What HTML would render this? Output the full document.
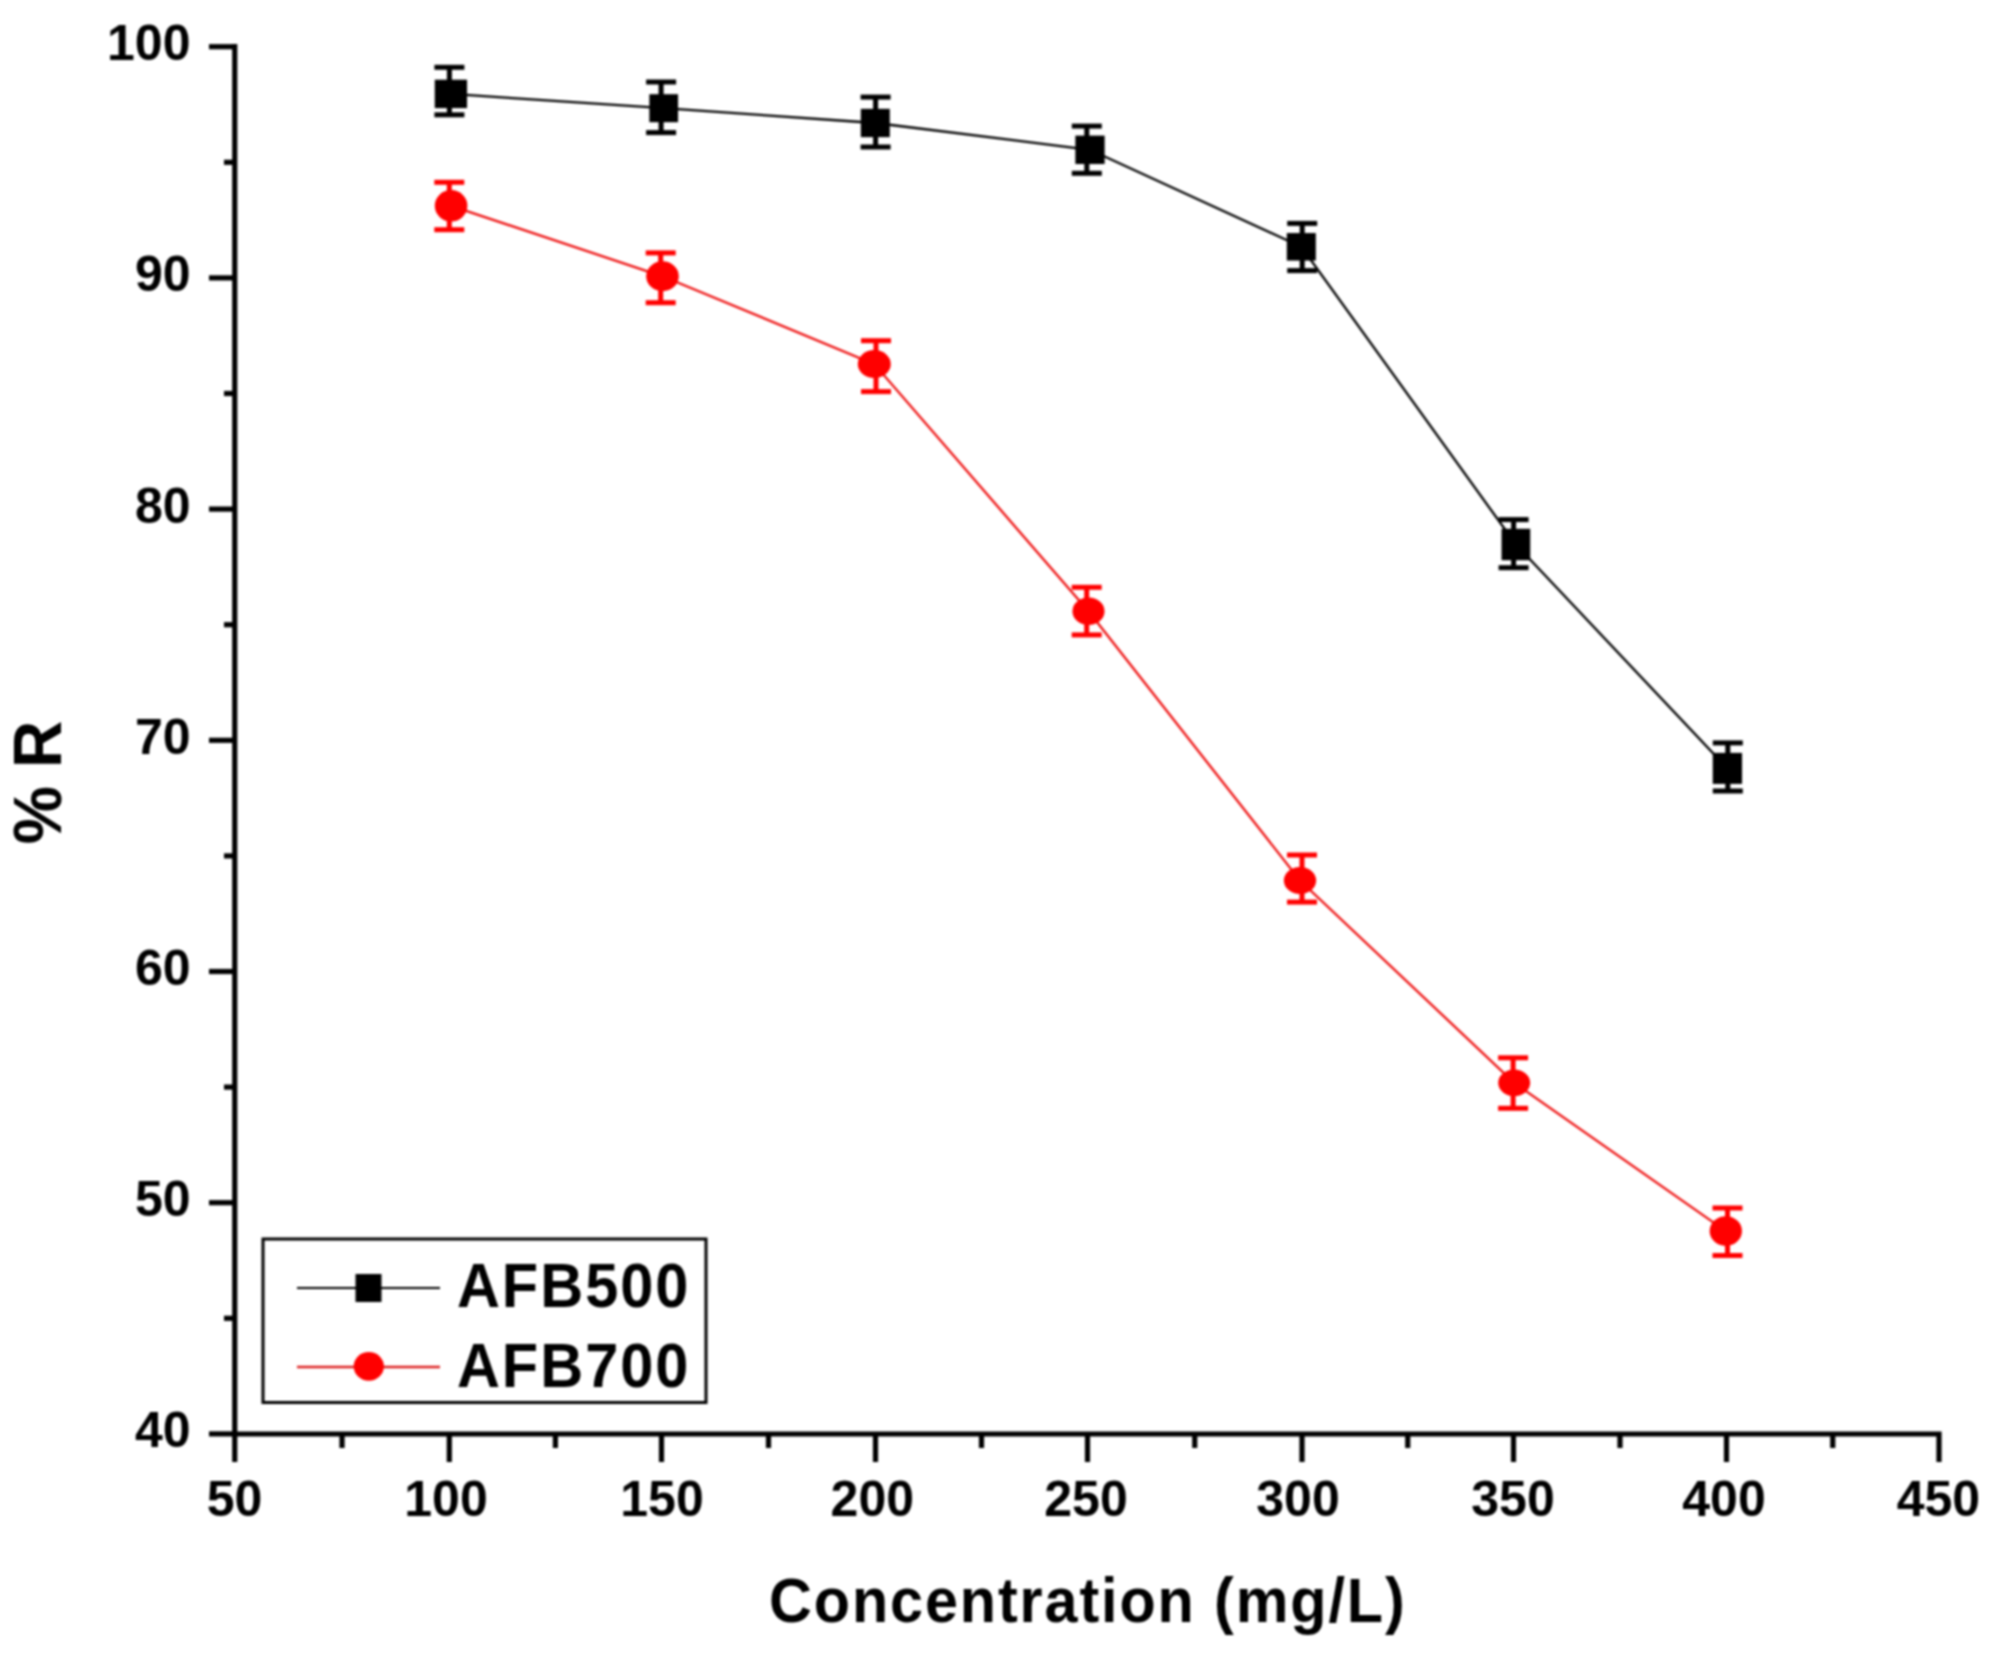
<!DOCTYPE html>
<html><head><meta charset="utf-8"><title>Chart</title>
<style>
html,body{margin:0;padding:0;background:#fff;}
body{width:2008px;height:1658px;overflow:hidden;}
svg{display:block;filter:blur(1px);}
text{font-family:"Liberation Sans",Arial,sans-serif;font-weight:bold;fill:#000;}
.t{font-size:50px;}
.lg{font-size:59.5px;letter-spacing:2px;}
.xt{font-size:59.3px;letter-spacing:1.9px;}
.yt{font-size:65.4px;}
</style></head>
<body>
<svg width="2008" height="1658" viewBox="0 0 2008 1658">
<rect width="2008" height="1658" fill="#fff"/>
<path d="M234.75 44.10 V1434" stroke="#000" stroke-width="5.2" fill="none"/>
<path d="M232.15 1434 H1939 V1462" stroke="#000" stroke-width="5.2" fill="none" stroke-linejoin="miter"/>
<line x1="209" y1="1433.90" x2="234.75" y2="1433.90" stroke="#000" stroke-width="5.2"/>
<line x1="209" y1="1202.70" x2="234.75" y2="1202.70" stroke="#000" stroke-width="5.2"/>
<line x1="209" y1="971.50" x2="234.75" y2="971.50" stroke="#000" stroke-width="5.2"/>
<line x1="209" y1="740.30" x2="234.75" y2="740.30" stroke="#000" stroke-width="5.2"/>
<line x1="209" y1="509.10" x2="234.75" y2="509.10" stroke="#000" stroke-width="5.2"/>
<line x1="209" y1="277.90" x2="234.75" y2="277.90" stroke="#000" stroke-width="5.2"/>
<line x1="209" y1="46.70" x2="234.75" y2="46.70" stroke="#000" stroke-width="5.2"/>
<line x1="224" y1="1318.30" x2="234.75" y2="1318.30" stroke="#000" stroke-width="5.2"/>
<line x1="224" y1="1087.10" x2="234.75" y2="1087.10" stroke="#000" stroke-width="5.2"/>
<line x1="224" y1="855.90" x2="234.75" y2="855.90" stroke="#000" stroke-width="5.2"/>
<line x1="224" y1="624.70" x2="234.75" y2="624.70" stroke="#000" stroke-width="5.2"/>
<line x1="224" y1="393.50" x2="234.75" y2="393.50" stroke="#000" stroke-width="5.2"/>
<line x1="224" y1="162.30" x2="234.75" y2="162.30" stroke="#000" stroke-width="5.2"/>
<line x1="234.75" y1="1434" x2="234.75" y2="1462" stroke="#000" stroke-width="5.2"/>
<line x1="449.3" y1="1434" x2="449.3" y2="1462" stroke="#000" stroke-width="5.2"/>
<line x1="661.5" y1="1434" x2="661.5" y2="1462" stroke="#000" stroke-width="5.2"/>
<line x1="875.5" y1="1434" x2="875.5" y2="1462" stroke="#000" stroke-width="5.2"/>
<line x1="1087.5" y1="1434" x2="1087.5" y2="1462" stroke="#000" stroke-width="5.2"/>
<line x1="1302" y1="1434" x2="1302" y2="1462" stroke="#000" stroke-width="5.2"/>
<line x1="1513.5" y1="1434" x2="1513.5" y2="1462" stroke="#000" stroke-width="5.2"/>
<line x1="1726.5" y1="1434" x2="1726.5" y2="1462" stroke="#000" stroke-width="5.2"/>
<line x1="342.02" y1="1434" x2="342.02" y2="1448" stroke="#000" stroke-width="5.2"/>
<line x1="555.40" y1="1434" x2="555.40" y2="1448" stroke="#000" stroke-width="5.2"/>
<line x1="768.50" y1="1434" x2="768.50" y2="1448" stroke="#000" stroke-width="5.2"/>
<line x1="981.50" y1="1434" x2="981.50" y2="1448" stroke="#000" stroke-width="5.2"/>
<line x1="1194.75" y1="1434" x2="1194.75" y2="1448" stroke="#000" stroke-width="5.2"/>
<line x1="1407.75" y1="1434" x2="1407.75" y2="1448" stroke="#000" stroke-width="5.2"/>
<line x1="1620.00" y1="1434" x2="1620.00" y2="1448" stroke="#000" stroke-width="5.2"/>
<line x1="1832.75" y1="1434" x2="1832.75" y2="1448" stroke="#000" stroke-width="5.2"/>
<text x="190.5" y="1447.40" text-anchor="end" class="t">40</text>
<text x="190.5" y="1216.20" text-anchor="end" class="t">50</text>
<text x="190.5" y="985.00" text-anchor="end" class="t">60</text>
<text x="190.5" y="753.80" text-anchor="end" class="t">70</text>
<text x="190.5" y="522.60" text-anchor="end" class="t">80</text>
<text x="190.5" y="291.40" text-anchor="end" class="t">90</text>
<text x="190.5" y="60.20" text-anchor="end" class="t">100</text>
<text x="234.5" y="1516.2" text-anchor="middle" class="t">50</text>
<text x="446" y="1516.2" text-anchor="middle" class="t">100</text>
<text x="662" y="1516.2" text-anchor="middle" class="t">150</text>
<text x="872.3" y="1516.2" text-anchor="middle" class="t">200</text>
<text x="1086" y="1516.2" text-anchor="middle" class="t">250</text>
<text x="1298" y="1516.2" text-anchor="middle" class="t">300</text>
<text x="1513" y="1516.2" text-anchor="middle" class="t">350</text>
<text x="1724" y="1516.2" text-anchor="middle" class="t">400</text>
<text x="1938.4" y="1516.2" text-anchor="middle" class="t">450</text>
<polyline points="450.9,93.9 663.7,108.2 875.3,123 1090,149.8 1301.3,246.8 1515.9,544.5 1727.4,768.4" fill="none" stroke="#000" stroke-width="2.3"/>
<polyline points="451.1,205.8 662.5,276.3 874.3,364.1 1088.5,611.3 1300,880.5 1514.2,1082.8 1725.8,1231.1" fill="none" stroke="#e11" stroke-width="2.3"/>
<line x1="449.4" y1="67.3" x2="449.4" y2="114.8" stroke="#000" stroke-width="5"/>
<line x1="434.4" y1="67.3" x2="464.4" y2="67.3" stroke="#000" stroke-width="5"/>
<line x1="434.4" y1="114.8" x2="464.4" y2="114.8" stroke="#000" stroke-width="5"/>
<rect x="434.75" y="79.70" width="32.3" height="28.4" fill="#000"/>
<line x1="661.1" y1="82" x2="661.1" y2="132.6" stroke="#000" stroke-width="5"/>
<line x1="646.1" y1="82" x2="676.1" y2="82" stroke="#000" stroke-width="5"/>
<line x1="646.1" y1="132.6" x2="676.1" y2="132.6" stroke="#000" stroke-width="5"/>
<rect x="649.35" y="94.20" width="28.7" height="28" fill="#000"/>
<line x1="875.6" y1="97.1" x2="875.6" y2="147" stroke="#000" stroke-width="5"/>
<line x1="860.6" y1="97.1" x2="890.6" y2="97.1" stroke="#000" stroke-width="5"/>
<line x1="860.6" y1="147" x2="890.6" y2="147" stroke="#000" stroke-width="5"/>
<rect x="860.80" y="108.85" width="29" height="28.3" fill="#000"/>
<line x1="1086.8" y1="126.1" x2="1086.8" y2="173.3" stroke="#000" stroke-width="5"/>
<line x1="1071.8" y1="126.1" x2="1101.8" y2="126.1" stroke="#000" stroke-width="5"/>
<line x1="1071.8" y1="173.3" x2="1101.8" y2="173.3" stroke="#000" stroke-width="5"/>
<rect x="1075.35" y="135.60" width="29.3" height="28.4" fill="#000"/>
<line x1="1302.2" y1="223.4" x2="1302.2" y2="270.6" stroke="#000" stroke-width="5"/>
<line x1="1287.2" y1="223.4" x2="1317.2" y2="223.4" stroke="#000" stroke-width="5"/>
<line x1="1287.2" y1="270.6" x2="1317.2" y2="270.6" stroke="#000" stroke-width="5"/>
<rect x="1286.80" y="233.05" width="29" height="27.5" fill="#000"/>
<line x1="1513.6" y1="519.6" x2="1513.6" y2="567.7" stroke="#000" stroke-width="5"/>
<line x1="1498.6" y1="519.6" x2="1528.6" y2="519.6" stroke="#000" stroke-width="5"/>
<line x1="1498.6" y1="567.7" x2="1528.6" y2="567.7" stroke="#000" stroke-width="5"/>
<rect x="1501.55" y="528.80" width="28.7" height="31.4" fill="#000"/>
<line x1="1727.8" y1="742.9" x2="1727.8" y2="791" stroke="#000" stroke-width="5"/>
<line x1="1712.8" y1="742.9" x2="1742.8" y2="742.9" stroke="#000" stroke-width="5"/>
<line x1="1712.8" y1="791" x2="1742.8" y2="791" stroke="#000" stroke-width="5"/>
<rect x="1712.75" y="752.90" width="29.3" height="31" fill="#000"/>
<line x1="449.3" y1="182.3" x2="449.3" y2="229.7" stroke="#f00" stroke-width="5"/>
<line x1="434.3" y1="182.3" x2="464.3" y2="182.3" stroke="#f00" stroke-width="5"/>
<line x1="434.3" y1="229.7" x2="464.3" y2="229.7" stroke="#f00" stroke-width="5"/>
<ellipse cx="451.1" cy="205.8" rx="16.30" ry="15.70" fill="#f00"/>
<line x1="660.7" y1="252.9" x2="660.7" y2="302.7" stroke="#f00" stroke-width="5"/>
<line x1="645.7" y1="252.9" x2="675.7" y2="252.9" stroke="#f00" stroke-width="5"/>
<line x1="645.7" y1="302.7" x2="675.7" y2="302.7" stroke="#f00" stroke-width="5"/>
<ellipse cx="662.5" cy="276.3" rx="16.30" ry="14.95" fill="#f00"/>
<line x1="876" y1="340.7" x2="876" y2="391.6" stroke="#f00" stroke-width="5"/>
<line x1="861.0" y1="340.7" x2="891.0" y2="340.7" stroke="#f00" stroke-width="5"/>
<line x1="861.0" y1="391.6" x2="891.0" y2="391.6" stroke="#f00" stroke-width="5"/>
<ellipse cx="874.3" cy="364.1" rx="16.50" ry="14.00" fill="#f00"/>
<line x1="1086.7" y1="587.3" x2="1086.7" y2="634.9" stroke="#f00" stroke-width="5"/>
<line x1="1071.7" y1="587.3" x2="1101.7" y2="587.3" stroke="#f00" stroke-width="5"/>
<line x1="1071.7" y1="634.9" x2="1101.7" y2="634.9" stroke="#f00" stroke-width="5"/>
<ellipse cx="1088.5" cy="611.3" rx="16.05" ry="13.75" fill="#f00"/>
<line x1="1302" y1="855" x2="1302" y2="902.1" stroke="#f00" stroke-width="5"/>
<line x1="1287.0" y1="855" x2="1317.0" y2="855" stroke="#f00" stroke-width="5"/>
<line x1="1287.0" y1="902.1" x2="1317.0" y2="902.1" stroke="#f00" stroke-width="5"/>
<ellipse cx="1300" cy="880.5" rx="16.15" ry="13.50" fill="#f00"/>
<line x1="1513.1" y1="1057.8" x2="1513.1" y2="1108.3" stroke="#f00" stroke-width="5"/>
<line x1="1498.1" y1="1057.8" x2="1528.1" y2="1057.8" stroke="#f00" stroke-width="5"/>
<line x1="1498.1" y1="1108.3" x2="1528.1" y2="1108.3" stroke="#f00" stroke-width="5"/>
<ellipse cx="1514.2" cy="1082.8" rx="16.00" ry="13.25" fill="#f00"/>
<line x1="1727.5" y1="1208" x2="1727.5" y2="1255.5" stroke="#f00" stroke-width="5"/>
<line x1="1712.5" y1="1208" x2="1742.5" y2="1208" stroke="#f00" stroke-width="5"/>
<line x1="1712.5" y1="1255.5" x2="1742.5" y2="1255.5" stroke="#f00" stroke-width="5"/>
<ellipse cx="1725.8" cy="1231.1" rx="16.15" ry="14.85" fill="#f00"/>
<rect x="263" y="1239" width="443" height="163.5" fill="none" stroke="#000" stroke-width="3"/>
<line x1="297" y1="1288" x2="440" y2="1288" stroke="#000" stroke-width="2.2"/>
<rect x="355.5" y="1274" width="26" height="28" fill="#000"/>
<line x1="297" y1="1367" x2="440" y2="1367" stroke="#d22" stroke-width="2.3"/>
<ellipse cx="368.8" cy="1366.4" rx="15.1" ry="14.3" fill="#f00"/>
<text transform="translate(456.9,1307.1) scale(1,1.05)" class="lg">AFB500</text>
<text transform="translate(456.9,1386.5) scale(1,1.05)" class="lg">AFB700</text>
<text transform="translate(769.1,1621.75) scale(1,1.05)" class="xt">Concentration (mg/L)</text>
<text transform="translate(61.3,782.5) rotate(-90) scale(1,1.04)" text-anchor="middle" class="yt">% R</text>
</svg>
</body></html>
